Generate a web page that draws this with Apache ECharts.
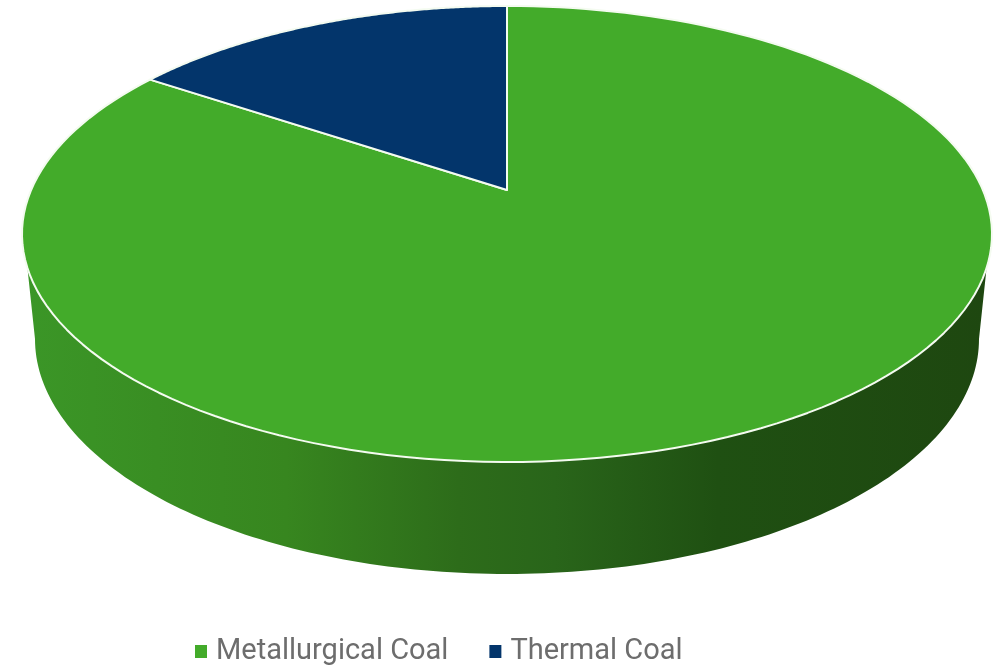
<!DOCTYPE html>
<html>
<head>
<meta charset="utf-8">
<style>html,body{margin:0;padding:0;background:#fff}#c{width:1005px;height:670px}</style>
<script src="https://cdn.jsdelivr.net/npm/echarts@6/dist/echarts.min.js"></script>
</head>
<body>
<div id="c"></div>
<script>
var categories = ['Metallurgical Coal', 'Thermal Coal'];
var shareValues = [84.4, 15.6];
var sliceColors = ['#43ab2a', '#03356b'];

var total = shareValues[0] + shareValues[1];

// Perspective projection of the pie disc onto the page
var cx = 507, apexY = 190, topY = 6, lowY = 462, outerX = 485;
var k = (2 * apexY - topY - lowY) / (topY - lowY);
var a = topY * (1 + k) - apexY;
var A = outerX * Math.sqrt(1 - k * k);
function disc(theta, r) {
  var u = r * Math.sin(theta), v = r * Math.cos(theta), w = 1 + k * v;
  return [cx + A * u / w, (a * v + apexY) / w];
}
function arc(from, to) {
  var pts = [], n = 160, i;
  for (i = 0; i <= n; i++) pts.push(disc(from + (to - from) * i / n, 1));
  return pts;
}
function wallPoints() {
  var rimY = 268, v = (rimY - apexY) / (a - k * rimY);
  var t = Math.acos(v), pts = arc(t, Math.PI * 2 - t), i, n = 160;
  var brx = 472, bcy = 339, bry = 235;
  for (i = 0; i <= n; i++) {
    var p = Math.PI * i / n;
    pts.push([cx - brx * Math.cos(p), bcy + bry * Math.sin(p)]);
  }
  return pts;
}
function sector(from, to, fill) {
  return {
    type: 'polygon',
    shape: { points: [disc(0, 0)].concat(arc(from, to)) },
    style: { fill: fill, stroke: '#f4fbf0', lineWidth: 2, lineJoin: 'round' }
  };
}

var option = {
  animation: false,
  backgroundColor: '#ffffff',
  legend: {
    data: categories,
    left: 190,
    top: 632,
    icon: 'rect',
    itemWidth: 12,
    itemHeight: 13,
    itemGap: 41,
    selectedMode: false,
    textStyle: { fontFamily: 'Roboto', fontSize: 29, color: '#6d6d6d', padding: [0, 0, 0, 4] }
  },
  series: [
    {
      type: 'custom', name: categories[0], coordinateSystem: 'none', silent: true,
      itemStyle: { color: sliceColors[0] },
      data: [shareValues[0]],
      renderItem: function (params, api) {
        var sweep = api.value(0) / total * Math.PI * 2;
        return {
          type: 'group',
          children: [
            {
              type: 'polygon',
              shape: { points: wallPoints() },
              style: {
                fill: {
                  type: 'linear', x: 0, y: 0, x2: 1, y2: 0,
                  colorStops: [
                    { offset: 0, color: '#3b9627' },
                    { offset: 0.27, color: '#37861f' },
                    { offset: 0.45, color: '#2d6c1a' },
                    { offset: 0.55, color: '#29651a' },
                    { offset: 0.72, color: '#1f5012' },
                    { offset: 1, color: '#1e4710' }
                  ]
                }
              }
            },
            sector(0, sweep, sliceColors[0])
          ]
        };
      }
    },
    {
      type: 'custom', name: categories[1], coordinateSystem: 'none', silent: true,
      itemStyle: { color: sliceColors[1] },
      data: [shareValues[1]],
      renderItem: function (params, api) {
        var sweep = api.value(0) / total * Math.PI * 2;
        return sector(-sweep, 0, sliceColors[1]);
      }
    }
  ]
};
echarts.init(document.getElementById('c')).setOption(option);
</script>
</body>
</html>
